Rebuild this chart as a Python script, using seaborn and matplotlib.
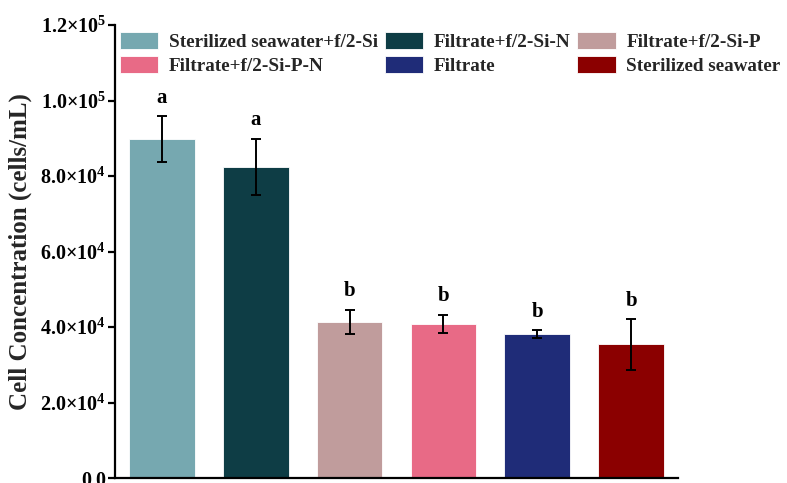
import matplotlib
matplotlib.use("Agg")
import matplotlib.pyplot as plt
import seaborn as sns
import pandas as pd
import numpy as np

categories = ["Sterilized seawater+f/2-Si", "Filtrate+f/2-Si-N", "Filtrate+f/2-Si-P",
              "Filtrate+f/2-Si-P-N", "Filtrate", "Sterilized seawater"]
values = [89800, 82400, 41400, 40800, 38100, 35400]
errors = [6100, 7500, 3200, 2500, 1100, 6700]
letters = ["a", "a", "b", "b", "b", "b"]
colors = ["#76A8B0", "#0E3D45", "#C09C9C", "#E86A86", "#1F2C78", "#8B0000"]
yticks = [0, 20000, 40000, 60000, 80000, 100000, 120000]
ytick_labels = ["0.0", r"$\mathbf{2.0{\times}10^{4}}$", r"$\mathbf{4.0{\times}10^{4}}$",
                r"$\mathbf{6.0{\times}10^{4}}$", r"$\mathbf{8.0{\times}10^{4}}$",
                r"$\mathbf{1.0{\times}10^{5}}$", r"$\mathbf{1.2{\times}10^{5}}$"]

sns.set_theme(style="white")
plt.rcParams["font.family"] = ["Liberation Serif", "DejaVu Serif"]
plt.rcParams["font.weight"] = "bold"
plt.rcParams["mathtext.fontset"] = "custom"
plt.rcParams["mathtext.rm"] = "Liberation Serif"
plt.rcParams["mathtext.bf"] = "Liberation Serif:bold"
plt.rcParams["mathtext.it"] = "Liberation Serif:italic"

df = pd.DataFrame({"group": categories, "value": values})

fig = plt.figure(figsize=(7.87, 4.83), dpi=100)
ax = fig.add_axes([115 / 787, 5 / 483, 563 / 787, 453 / 483])

sns.barplot(data=df, x="group", y="value", hue="group", order=categories,
            hue_order=categories, palette=colors, saturation=1, dodge=False,
            width=0.7, edgecolor="#FFFFFF", linewidth=0.6, ax=ax, legend=True)

xpos = np.arange(len(categories))
ax.errorbar(xpos, values, yerr=errors, fmt="none", ecolor="black",
            elinewidth=1.4, capsize=3.6, capthick=1.4, zorder=5)

for x, v, e, t in zip(xpos, values, errors, letters):
    ax.annotate(t, (x, v + e), xytext=(0, 6), textcoords="offset points",
                ha="center", va="bottom", fontsize=15, fontweight="bold",
                color="black")

ax.set_xlim(-0.5, 5.5)
ax.set_ylim(0, 120000)
ax.set_yticks(yticks)
ax.set_yticklabels(ytick_labels, fontsize=14.5, fontweight="bold")
ax.set_xticks([])
ax.set_xlabel("")
ax.set_ylabel("Cell Concentration (cells/mL)", fontsize=18, fontweight="bold",
              labelpad=6)

for s in ["top", "right"]:
    ax.spines[s].set_visible(False)
for s in ["left", "bottom"]:
    ax.spines[s].set_color("black")
    ax.spines[s].set_linewidth(1.6)
ax.tick_params(axis="y", direction="out", length=5, width=1.6, color="black",
               left=True, pad=1.5, labelcolor="black")

handles, labels = ax.get_legend_handles_labels()
order = [0, 3, 1, 4, 2, 5]
leg = ax.legend([handles[i] for i in order], [labels[i] for i in order],
                ncol=3, loc="upper left", bbox_to_anchor=(0.009, 0.985),
                borderaxespad=0, borderpad=0, frameon=False,
                prop={"family": "Liberation Serif", "weight": "bold", "size": 13.8},
                handlelength=2.0, handleheight=1.0, handletextpad=0.55,
                columnspacing=0.36, labelspacing=0.25)

fig.savefig("out.png", dpi=100)
